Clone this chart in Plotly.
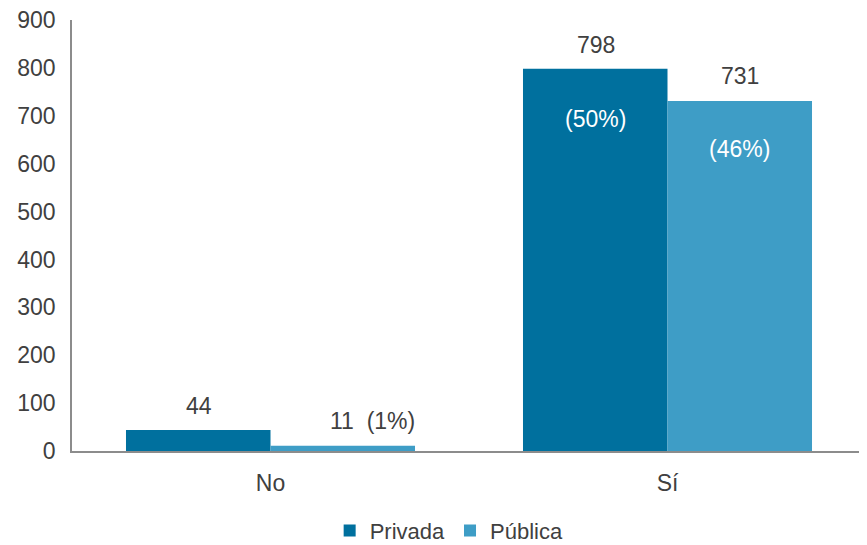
import plotly.graph_objects as go

categories = ["No", "Sí"]
privada = [44, 798]
publica = [11, 731]
privada_labels_top = ["44", "798"]
privada_labels_in = ["", "(50%)"]
publica_labels_top = ["11  (1%)", "731"]
publica_labels_in = ["", "(46%)"]

c_priv = "#00709E"
c_pub = "#3E9DC6"
font_family = "Liberation Sans, Arial, sans-serif"
txt = "#404040"
fs = 23

fig = go.Figure()
fig.add_trace(go.Bar(x=categories, y=privada, name="Privada", marker_color=c_priv,
                     marker_line_width=0))
fig.add_trace(go.Bar(x=categories, y=publica, name="Pública", marker_color=c_pub,
                     marker_line_width=0))

ann = []
for i, c in enumerate(categories):
    ann.append(dict(x=c, y=privada[i], text=privada_labels_top[i], xshift=-72, yshift=24,
                    showarrow=False, font=dict(size=fs, color=txt)))
    if privada_labels_in[i]:
        ann.append(dict(x=c, y=privada[i], text=privada_labels_in[i], xshift=-72, yshift=-50,
                        showarrow=False, font=dict(size=fs, color="white")))
    xs = 30 if i == 0 else 0
    ann.append(dict(x=c, y=publica[i], text=publica_labels_top[i], xshift=72 + xs, yshift=25,
                    showarrow=False, font=dict(size=fs, color=txt)))
    if publica_labels_in[i]:
        ann.append(dict(x=c, y=publica[i], text=publica_labels_in[i], xshift=72, yshift=-48,
                        showarrow=False, font=dict(size=fs, color="white")))

# the page body adds an 8px offset, so margins are reduced by 8px on left/top
fig.update_layout(
    width=867, height=545,
    margin=dict(l=64, r=9, t=12, b=102),
    barmode="group", bargap=0.272, bargroupgap=0,
    plot_bgcolor="white", paper_bgcolor="white",
    font=dict(family=font_family, size=fs, color=txt),
    showlegend=True,
    legend=dict(orientation="h", x=0.475, xanchor="center", xref="paper",
                y=0.041, yanchor="middle", yref="container",
                font=dict(size=22, color=txt), itemwidth=30, traceorder="normal"),
    annotations=ann,
    xaxis=dict(showline=True, linecolor="#8c8c8c", linewidth=1.5, ticks="",
               tickfont=dict(size=fs, color=txt), ticklabelstandoff=11, automargin=False),
    yaxis=dict(range=[0, 900], dtick=100, showgrid=False, showline=True,
               linecolor="#8c8c8c", linewidth=1.5, ticks="", zeroline=False,
               tickfont=dict(size=fs, color=txt), ticklabelstandoff=10, automargin=False,
               ticklabeloverflow="allow"),
)
fig.write_html("out.html")
